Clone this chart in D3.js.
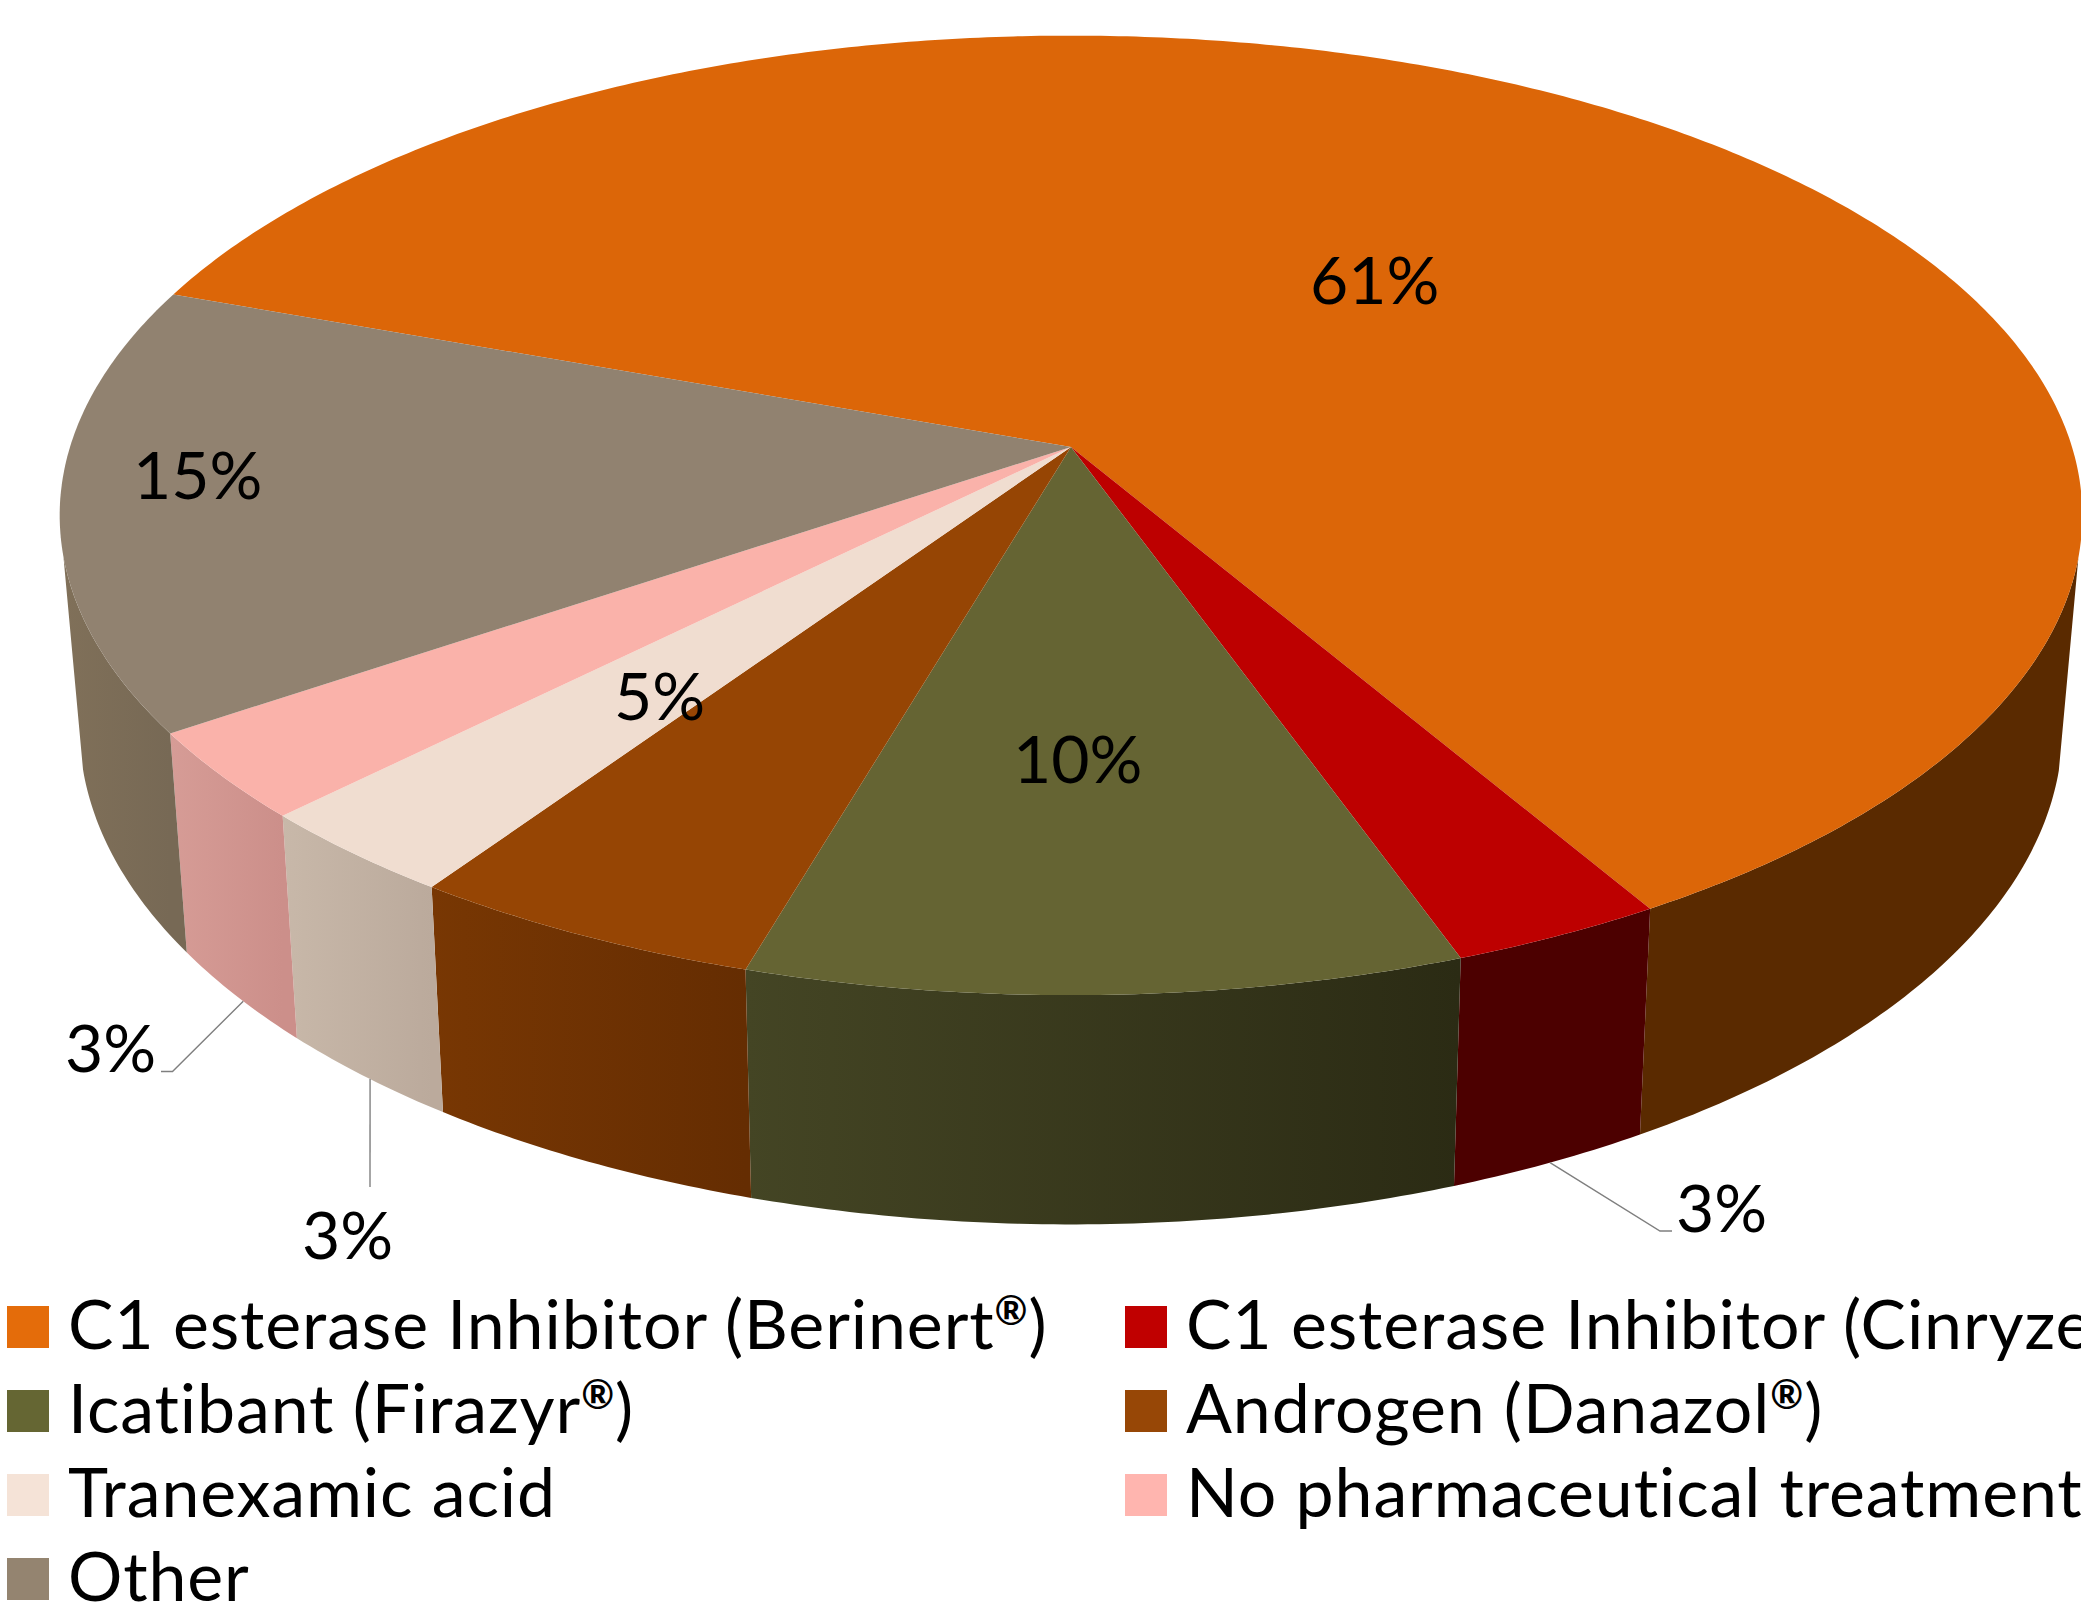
<!DOCTYPE html>
<html>
<head>
<meta charset="utf-8">
<script src="https://cdn.jsdelivr.net/npm/d3@7"></script>
<style>
  body { margin: 0; background: #fff; overflow: hidden; }
  text { font-family: Lato, sans-serif; fill: #000; }
</style>
</head>
<body>
<div id="container"></div>
<script>
const treatments = ["C1 esterase Inhibitor (Berinert®)", "C1 esterase Inhibitor (Cinryze®)", "Icatibant (Firazyr®)", "Androgen (Danazol®)", "Tranexamic acid", "No pharmaceutical treatment", "Other"];
const shares = [61, 3, 10, 5, 3, 3, 15];

const topColors = ["#dc6608", "#bd0000", "#656433", "#964504", "#f0ddd0", "#fab2aa", "#918270"];
const legendColors = ["#e46c0a", "#c00000", "#656633", "#974706", "#f5e3d7", "#ffb5af", "#948470"];
const wallLeft = ["#5a2a00", "#4c0000", "#444524", "#783703", "#c8b8a9", "#d69c96", "#807059"];
const wallRight = ["#5a2a00", "#4c0000", "#2b2b14", "#652d02", "#bbaa9c", "#cc8f8a", "#776955"];

const width = 2081, height = 1606;

const svg = d3.select("#container").append("svg")
  .attr("width", width)
  .attr("height", height);

// the pie is a tilted disc, so circle points go through a perspective divide
const topRing = {a: 1001, b: 470, k: 0.1425, cy: 447};
const bottomRing = {a: 981, b: 486, k: 0.145, cy: 656};
const cx = 1071;

function project(angle, ring) {
  const X = Math.sin(angle), Y = -Math.cos(angle);
  const w = 1 - ring.k * Y;
  return [cx + ring.a * X / w, ring.cy + ring.b * Y / w];
}

const pie = d3.pie().sort(null).value(d => d)
  .startAngle(-70.1 * Math.PI / 180)
  .endAngle((360 - 70.1) * Math.PI / 180);
const slices = pie(shares);

function arcAngles(d) {
  const n = Math.ceil((d.endAngle - d.startAngle) / 0.01);
  return d3.range(n + 1).map(i => d.startAngle + (d.endAngle - d.startAngle) * i / n);
}

// back of the wall folds over itself and cancels the fill, so only keep the front
function frontAngles(d) {
  return arcAngles(d).filter(a => -Math.cos(a) >= 0.22);
}

const line = d3.line();
const defs = svg.append("defs");

slices.forEach((d, i) => {
  const xs = frontAngles(d).map(a => project(a, topRing)[0]);
  const grad = defs.append("linearGradient")
    .attr("id", "wall" + i)
    .attr("gradientUnits", "userSpaceOnUse")
    .attr("x1", d3.min(xs)).attr("x2", d3.max(xs))
    .attr("y1", 0).attr("y2", 0);
  grad.append("stop").attr("offset", 0).attr("stop-color", wallLeft[i]);
  grad.append("stop").attr("offset", 1).attr("stop-color", wallRight[i]);
});

// side walls
svg.append("g").selectAll("path")
  .data(slices)
  .join("path")
  .attr("fill", (d, i) => `url(#wall${i})`)
  .attr("d", d => {
    const angles = frontAngles(d);
    const upper = angles.map(a => project(a, topRing));
    const lower = angles.slice().reverse().map(a => project(a, bottomRing));
    return line(upper.concat(lower)) + "Z";
  });

// top face
svg.append("g").selectAll("path")
  .data(slices)
  .join("path")
  .attr("fill", (d, i) => topColors[i])
  .attr("d", d => line([[cx, topRing.cy]].concat(arcAngles(d).map(a => project(a, topRing)))) + "Z");

// leader lines start on the lower rim, frac is how far along the slice
const leaders = [
  {slice: 1, frac: 0.5, to: [[1660, 1231], [1672, 1231]]},
  {slice: 4, frac: 0.47, to: [[370, 1187]]},
  {slice: 5, frac: 0.445, to: [[172.5, 1071.5], [161, 1071.5]]}
];
svg.append("g").selectAll("path")
  .data(leaders)
  .join("path")
  .attr("fill", "none")
  .attr("stroke", "#7f7f7f")
  .attr("stroke-width", 1.4)
  .attr("d", d => {
    const s = slices[d.slice];
    return line([project(s.startAngle + (s.endAngle - s.startAngle) * d.frac, bottomRing)].concat(d.to));
  });

// percent labels, left edge and baseline for each slice
const labelSpots = [[1310, 304], [1676, 1232], [1013, 783], [614, 720], [302, 1259], [65, 1072], [133, 499]];
svg.append("g").selectAll("text")
  .data(shares)
  .join("text")
  .attr("x", (d, i) => labelSpots[i][0])
  .attr("y", (d, i) => labelSpots[i][1])
  .attr("font-size", 66)
  .text(d => d + "%");

// legend, two columns filled row by row
const legendX = d3.scaleOrdinal().domain([0, 1]).range([7, 1125]);
const legendY = d3.scaleLinear().domain([0, 3]).range([1306, 1558]);
const legend = svg.append("g").selectAll("g")
  .data(treatments)
  .join("g")
  .attr("transform", (d, i) => `translate(${legendX(i % 2)},${legendY(Math.floor(i / 2))})`);
legend.append("rect")
  .attr("width", 42)
  .attr("height", 42)
  .attr("fill", (d, i) => legendColors[i]);
legend.append("text")
  .attr("x", 61)
  .attr("y", 43)
  .attr("font-size", 68)
  .attr("letter-spacing", 0.9)
  .each(function(d) {
    // the registered sign sits small and raised
    const t = d3.select(this);
    d.split(/(®)/).filter(p => p).forEach((p, i, parts) => {
      const span = t.append("tspan").text(p);
      if (p === "®") span.attr("font-size", 40).attr("font-weight", 700).attr("dy", -24);
      else if (parts[i - 1] === "®") span.attr("dy", 24);
    });
  });
</script>
</body>
</html>
